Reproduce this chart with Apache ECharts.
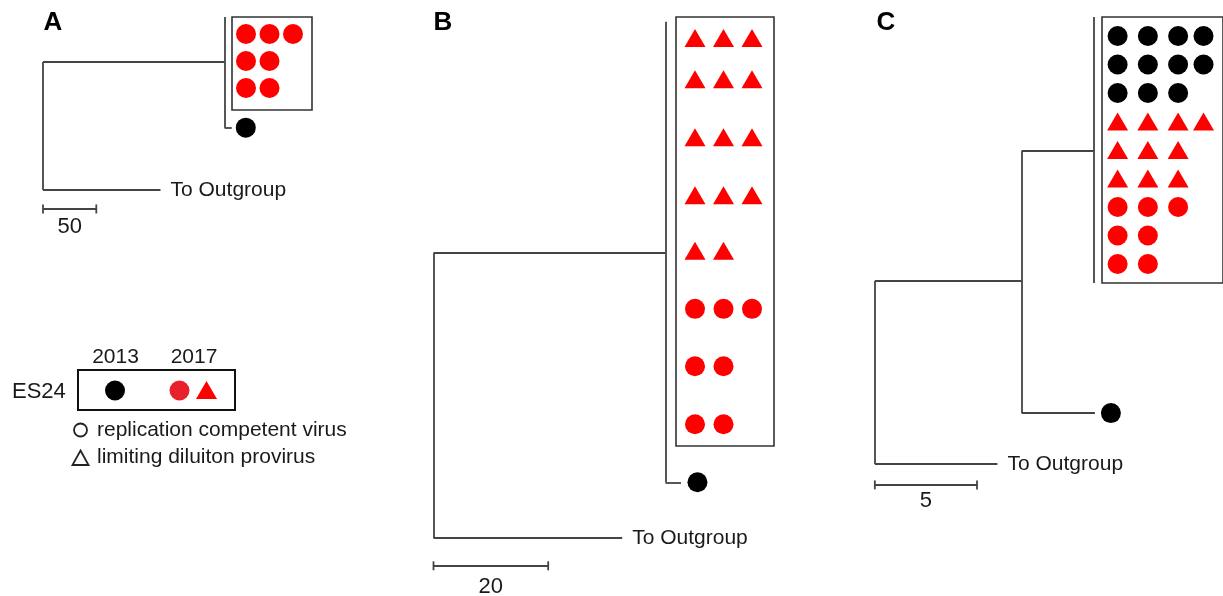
<!DOCTYPE html>
<html>
<head>
<meta charset="utf-8">
<script src="https://cdn.jsdelivr.net/npm/echarts@6/dist/echarts.min.js"></script>
<style>
html,body{margin:0;padding:0;background:#fff;}
#chart{width:1223px;height:596px;}
</style>
</head>
<body>
<div id="chart"></div>
<script>
// ================= DATA =================
// Number of sequences per row in each boxed clade
const A_rc2017 = [3, 2, 2];          // 2017 replication-competent virus (red circles)
const B_ld2017 = [3, 3, 3, 3, 2];    // 2017 limiting-dilution provirus (red triangles)
const B_rc2017 = [3, 2, 2];
const C_rc2013 = [4, 4, 3];          // 2013 replication-competent virus (black circles)
const C_ld2017 = [4, 3, 3];
const C_rc2017 = [3, 2, 2];

// Branch lengths, in scale-bar units
const A_len = [170.3, 6.8, 110.2];        // root->clade node, node->2013 leaf, root->outgroup
const B_len = [40.45, 2.7, 32.9];
const C_len = [7.18, 3.54, 3.59, 6.0];    // root->n1, n1->clade, n1->2013 leaf, root->outgroup

// Scale bars
const scaleValues = [50, 20, 5];
const scaleText = ['50', '20', '5'];

// Text
const panelLetters = ['A', 'B', 'C'];
const outgroupText = 'To Outgroup';
const legendPatient = 'ES24';
const legendYears = ['2013', '2017'];
const legendLabels = ['replication competent virus', 'limiting diluiton provirus'];

// ================= LAYOUT / STYLE =================
const FONT = 'Liberation Sans, Arial, Helvetica, sans-serif';
const LINE = '#444';
const RED = '#ff0000';
const BLACK = '#000000';
const KIND = {
  rc2013: {symbol: 'circle', size: 20, color: BLACK},
  rc2017: {symbol: 'circle', size: 20, color: RED},
  ld2017: {symbol: 'triangle', size: [21, 18], color: RED}
};

const panels = [
  {
    letter: 0, letterPos: [53, 23],
    rootX: 43, ppu: 1.066, row0: 34, rowStep: 27,
    box: {l: 232, t: 17, r: 312, b: 110}, col0: 246, colStep: 23.5,
    colPos: [0, 1, 2], rowPos: [0, 1, 2],
    groups: [{kind: 'rc2017', counts: A_rc2017}],
    nodes: [
      {id: 'root', parent: null, len: 0},
      {id: 'n1', parent: 'root', len: A_len[0], y: 1.04, span: [-0.63, 2.81]},
      {id: 's13', parent: 'n1', len: A_len[1], y: 3.47, leaf: 'dot'},
      {id: 'out', parent: 'root', len: A_len[2], y: 5.78, leaf: 'out'}
    ],
    scaleY: 6.48, scale: 0, labelGap: 7, dotGap: 14
  },
  {
    letter: 1, letterPos: [443, 23],
    rootX: 433.5, ppu: 5.735, row0: 38, rowStep: 58,
    box: {l: 676, t: 17, r: 774, b: 446}, col0: 695, colStep: 28.5,
    colPos: [0, 1, 2], rowPos: [0, 0.71, 1.71, 2.71, 3.67, 4.67, 5.66, 6.66],
    groups: [{kind: 'ld2017', counts: B_ld2017}, {kind: 'rc2017', counts: B_rc2017}],
    nodes: [
      {id: 'root', parent: null, len: 0},
      {id: 'n1', parent: 'root', len: B_len[0], y: 3.71, span: [-0.28, 7.03]},
      {id: 's13', parent: 'n1', len: B_len[1], y: 7.66, leaf: 'dot'},
      {id: 'out', parent: 'root', len: B_len[2], y: 8.62, leaf: 'out'}
    ],
    scaleY: 9.10, scale: 1, labelGap: 10, dotGap: 16.5
  },
  {
    letter: 2, letterPos: [886, 23],
    rootX: 875, ppu: 20.6, row0: 36, rowStep: 28.5,
    box: {l: 1102, t: 17, r: 1226, b: 283}, col0: 1118, colStep: 31,
    colPos: [0, 1, 2, 2.84], rowPos: [0, 1, 2, 3, 4, 5, 6, 7, 8],
    groups: [{kind: 'rc2013', counts: C_rc2013}, {kind: 'ld2017', counts: C_ld2017}, {kind: 'rc2017', counts: C_rc2017}],
    nodes: [
      {id: 'root', parent: null, len: 0},
      {id: 'n1', parent: 'root', len: C_len[0], y: 8.60},
      {id: 'n2', parent: 'n1', len: C_len[1], y: 4.04, span: [-0.67, 8.67]},
      {id: 's13', parent: 'n1', len: C_len[2], y: 13.23, leaf: 'dot'},
      {id: 'out', parent: 'root', len: C_len[3], y: 15.02, leaf: 'out'}
    ],
    scaleY: 15.75, scale: 2, labelGap: 5, dotGap: 16
  }
];

// ================= BUILD =================
const grids = [], xAxes = [], yAxes = [], series = [];
const hiddenAxis = {show: false, splitLine: {show: false}};

panels.forEach((p, pi) => {
  // ---- tree grid (x: branch length units, y: row units) ----
  const tl = p.rootX - 20, tr = p.box.r, tt = 0, tb = 596;
  const gT = grids.length;
  grids.push({left: tl, top: tt, width: tr - tl, height: tb - tt, show: false});
  xAxes.push(Object.assign({type: 'value', gridIndex: gT,
    min: (tl - p.rootX) / p.ppu, max: (tr - p.rootX) / p.ppu}, hiddenAxis));
  yAxes.push(Object.assign({type: 'value', gridIndex: gT, inverse: true,
    min: (tt - p.row0) / p.rowStep, max: (tb - p.row0) / p.rowStep}, hiddenAxis));

  // node x positions from branch lengths
  const byId = {};
  p.nodes.forEach(n => { byId[n.id] = n; });
  p.nodes.forEach(n => { n.x = n.parent ? byId[n.parent].x + n.len : 0; });
  const segs = [];
  p.nodes.forEach(n => {
    if (n.parent) segs.push({coords: [[byId[n.parent].x, n.y], [n.x, n.y]]});
    const kids = p.nodes.filter(c => c.parent === n.id).map(c => c.y);
    if (n.span) kids.push(n.span[0], n.span[1]);
    if (kids.length > 1) segs.push({coords: [[n.x, Math.min(...kids)], [n.x, Math.max(...kids)]]});
  });
  const sv = scaleValues[p.scale];
  segs.push({coords: [[0, p.scaleY], [sv, p.scaleY]]});

  series.push({
    type: 'lines', coordinateSystem: 'cartesian2d', xAxisIndex: gT, yAxisIndex: gT,
    data: segs, silent: true, z: 2,
    lineStyle: {color: LINE, width: 1.8, opacity: 1}
  });
  // scale bar end ticks
  series.push({
    type: 'scatter', xAxisIndex: gT, yAxisIndex: gT, silent: true, z: 3,
    data: [[0, p.scaleY], [sv, p.scaleY]],
    symbol: 'rect', symbolSize: [1.8, 9], itemStyle: {color: LINE, opacity: 1}
  });
  // scale bar label
  series.push({
    type: 'scatter', xAxisIndex: gT, yAxisIndex: gT, silent: true, z: 3,
    data: [[sv / 2, p.scaleY]], symbolSize: 0.1, itemStyle: {color: 'rgba(0,0,0,0)', opacity: 1},
    label: {show: true, position: 'bottom', distance: p.labelGap, formatter: scaleText[p.scale],
      color: '#1a1a1a', fontSize: 22, fontFamily: FONT, opacity: 1}
  });
  // 2013 leaf dot
  series.push({
    type: 'scatter', xAxisIndex: gT, yAxisIndex: gT, silent: true, z: 4,
    data: p.nodes.filter(n => n.leaf === 'dot').map(n => [n.x, n.y]),
    symbol: 'circle', symbolSize: 20, symbolOffset: [p.dotGap, 0],
    itemStyle: {color: BLACK, opacity: 1}
  });
  // outgroup label
  series.push({
    type: 'scatter', xAxisIndex: gT, yAxisIndex: gT, silent: true, z: 4,
    data: p.nodes.filter(n => n.leaf === 'out').map(n => [n.x, n.y]),
    symbolSize: 0.1, itemStyle: {color: 'rgba(0,0,0,0)', opacity: 1},
    label: {show: true, position: 'right', distance: 10, formatter: outgroupText,
      color: '#1a1a1a', fontSize: 21, fontFamily: FONT, opacity: 1}
  });

  // ---- box grid (x: column, y: row) ----
  const gB = grids.length;
  const b = p.box;
  grids.push({left: b.l, top: b.t, width: b.r - b.l, height: b.b - b.t,
    show: true, borderColor: '#333', borderWidth: 1.6, backgroundColor: 'transparent'});
  xAxes.push(Object.assign({type: 'value', gridIndex: gB,
    min: (b.l - p.col0) / p.colStep, max: (b.r - p.col0) / p.colStep}, hiddenAxis));
  yAxes.push(Object.assign({type: 'value', gridIndex: gB, inverse: true,
    min: (b.t - p.row0) / p.rowStep, max: (b.b - p.row0) / p.rowStep}, hiddenAxis));

  let r = 0;
  p.groups.forEach(g => {
    const k = KIND[g.kind];
    const pts = [];
    g.counts.forEach(cnt => {
      for (let c = 0; c < cnt; c++) pts.push([p.colPos[c], p.rowPos[r]]);
      r++;
    });
    series.push({
      type: 'scatter', xAxisIndex: gB, yAxisIndex: gB, silent: true, z: 4,
      data: pts, symbol: k.symbol, symbolSize: k.size, itemStyle: {color: k.color, opacity: 1}
    });
  });
});

// ---- graphics: panel letters and legend ----
function txt(x, y, text, size, opts) {
  const o = opts || {};
  return {type: 'text', x: x, y: y, silent: true, z: 10,
    style: {text: text, fill: o.fill || '#1a1a1a',
      font: (o.bold ? 'bold ' : '') + size + 'px ' + FONT,
      textAlign: o.align || 'left', align: o.align || 'left',
      textVerticalAlign: 'middle', verticalAlign: 'middle'}};
}
const graphic = [];
panels.forEach(p => {
  graphic.push(txt(p.letterPos[0], p.letterPos[1], panelLetters[p.letter], 26, {bold: true, align: 'center', fill: '#000'}));
});
graphic.push(
  {type: 'rect', shape: {x: 78, y: 370, width: 157, height: 40}, silent: true,
    style: {fill: 'none', stroke: '#111', lineWidth: 2}},
  txt(12, 392, legendPatient, 22),
  txt(115.5, 357.5, legendYears[0], 21, {align: 'center'}),
  txt(194, 357.5, legendYears[1], 21, {align: 'center'}),
  {type: 'circle', shape: {cx: 115, cy: 390.5, r: 10}, silent: true, style: {fill: BLACK}},
  {type: 'circle', shape: {cx: 179.5, cy: 390.5, r: 10}, silent: true, style: {fill: '#e8222b'}},
  {type: 'polygon', shape: {points: [[206.5, 381], [217, 399], [196, 399]]}, silent: true, style: {fill: RED}},
  {type: 'circle', shape: {cx: 80.5, cy: 430, r: 6.5}, silent: true, style: {fill: 'none', stroke: '#222', lineWidth: 1.8}},
  txt(97, 430, legendLabels[0], 21),
  {type: 'polygon', shape: {points: [[80.5, 450.5], [88.5, 465], [72.5, 465]]}, silent: true, style: {fill: 'none', stroke: '#222', lineWidth: 1.8}},
  txt(97, 457, legendLabels[1], 21)
);

const chart = echarts.init(document.getElementById('chart'), null, {renderer: 'canvas'});
chart.setOption({
  animation: false,
  backgroundColor: '#fff',
  grid: grids,
  xAxis: xAxes,
  yAxis: yAxes,
  series: series,
  graphic: graphic
});
</script>
</body>
</html>
